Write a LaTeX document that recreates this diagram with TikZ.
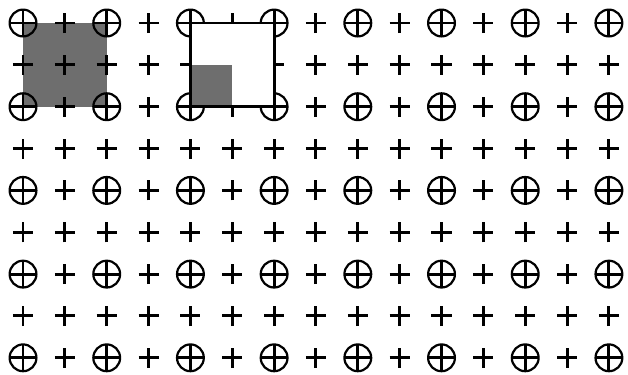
\documentclass[tikz,border=0pt]{standalone}
\begin{document}
\begin{tikzpicture}
    \tikzset{
        bar/.style={line width=2pt},
        ring/.style={line width=1.5pt},
        pics/plusmark/.style={code={\draw[bar] (-0.24,0) -- (0.24,0) (0,-0.24) -- (0,0.24);}},
        pics/oplusmark/.style={code={
            \draw[ring] (0,0) circle (0.32);
            \draw[bar] (-0.32,0) -- (0.32,0) (0,-0.32) -- (0,0.32);}},
    }
    \useasboundingbox (0,0) rectangle (15.006,-8.937);
    \def\sh{0.55}

    % gray block under the grid
    \fill[black!57] (\sh,-\sh) rectangle (\sh+2,-\sh-2);

    % grid of marks
    \foreach \c in {0,...,14}{
        \foreach \r in {0,...,8}{
            \pgfmathtruncatemacro{\odd}{mod(\c,2)+mod(\r,2)}
            \ifnum\odd=0
                \pic at (\sh+\c,-\sh-\r) {oplusmark};
            \else
                \pic at (\sh+\c,-\sh-\r) {plusmark};
            \fi
        }
    }

    % white window on top of the grid
    \draw[fill=white, line width=2pt] (\sh+4,-\sh) rectangle (\sh+6,-\sh-2);
    \fill[black!57] (\sh+4,-\sh-1) rectangle (\sh+5,-\sh-2);
    \draw[line width=2pt] (\sh+4,-\sh) rectangle (\sh+6,-\sh-2);
\end{tikzpicture}
\end{document}
